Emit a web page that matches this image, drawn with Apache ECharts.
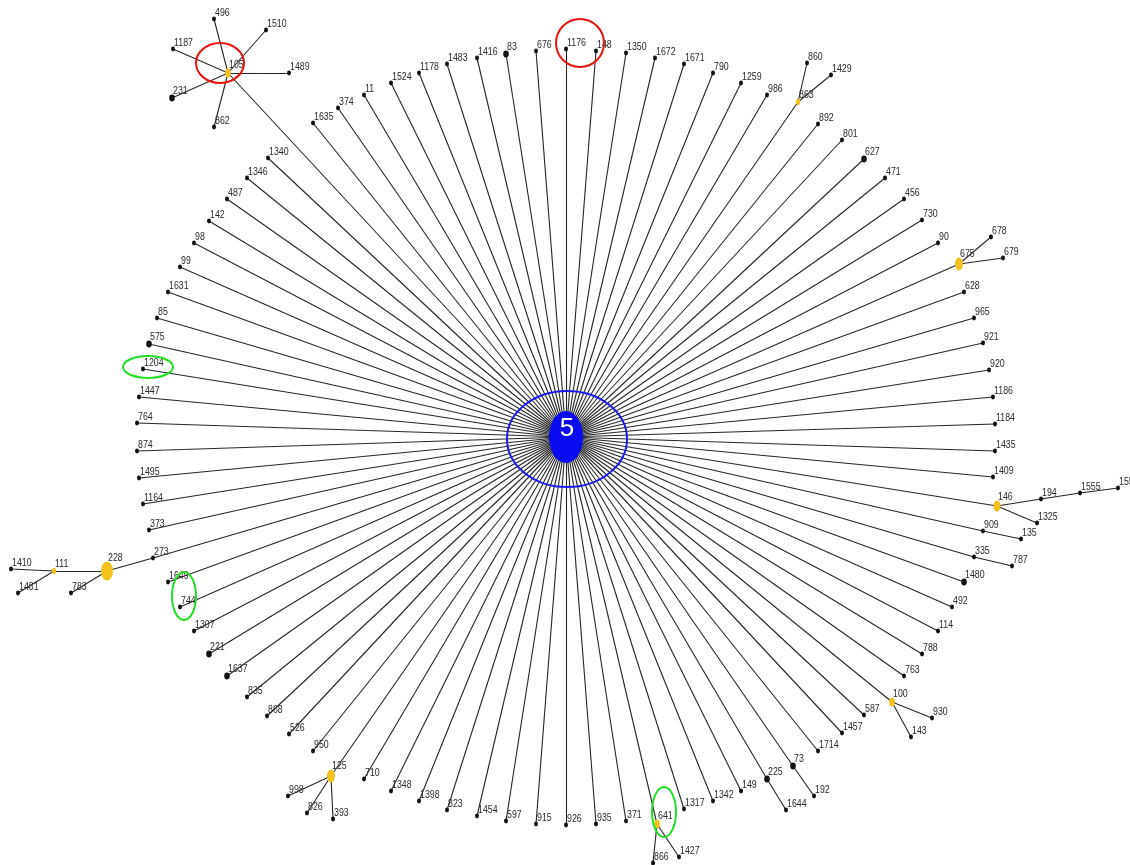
<!DOCTYPE html>
<html>
<head>
<meta charset="utf-8">
<title>Minimum spanning tree around node 5</title>
<script src="https://cdn.jsdelivr.net/npm/echarts@6/dist/echarts.min.js"></script>
<style>
  html, body { margin: 0; padding: 0; background: #ffffff; }
  #chart { width: 1130px; height: 865px; }
</style>
</head>
<body>
<div id="chart"></div>
<script>
// Central node of the tree
const HUB = '5';

// Nodes joined directly to the hub, clockwise from the upper-left cluster
const spokeNames = ['105','1635','374','11','1524','1178','1483','1416','83','676','1176','148',
  '1350','1672','1671','790','1259','986','863','892','801','627','471','456','730','90','675',
  '628','965','921','920','1186','1184','1435','1409','146','909','335','1480','492','114','788',
  '763','100','587','1457','1714','73','225','149','1342','1317','641','371','935','926','915',
  '597','1454','823','1398','1348','710','125','950','526','868','835','1637','221','1307','744',
  '1649','273','373','1164','1495','874','764','1447','1204','575','85','1631','99','98','142',
  '487','1346','1340'];

// Further links: [child, parent]
const branchLinks = [
  ['496','105'],['1510','105'],['1187','105'],['1489','105'],['231','105'],['862','105'],
  ['860','863'],['1429','863'],
  ['678','675'],['679','675'],
  ['194','146'],['1555','194'],['1556','1555'],['1325','146'],
  ['135','909'],['787','335'],
  ['930','100'],['143','100'],
  ['192','73'],['1644','225'],
  ['1427','641'],['866','641'],
  ['998','125'],['826','125'],['393','125'],
  ['228','273'],['111','228'],['783','228'],['1410','111'],['1481','111']
];

// Linking nodes (drawn in yellow)
const linkingNodes = ['105','863','675','146','100','641','125','228','111'];

// Isolate counts of nodes holding more than one isolate
const nodeWeight = {'228':9,'675':4,'125':4,'146':3,'105':2,'100':2,'641':2,
  '83':2,'627':2,'73':2,'575':2,'221':2,'1637':2,'225':2,'231':2,'1480':2};

// Fixed layout of the tree: [node, x, y] on the layout plane (y grows downward)
const layout = [
  ['5',566,437],
  ['105',228,73],['496',214,19],['1510',266,30],['1187',173,49],['1489',289,73],['231',172,98],['862',214,127],
  ['1635',313,123],['374',338,108],['11',364,95],['1524',391,83],['1178',419,73],['1483',447,64],
  ['1416',477,58],['83',506,54],['676',536,51],['1176',566,49],['148',596,51],['1350',626,53],
  ['1672',655,58],['1671',684,64],['790',713,73],['1259',741,83],['986',767,95],
  ['863',798,102],['860',807,63],['1429',831,75],
  ['892',818,124],['801',842,140],['627',864,159],['471',885,178],['456',904,199],['730',922,220],['90',938,243],
  ['675',959,264],['678',991,237],['679',1003,258],
  ['628',964,292],['965',974,318],['921',983,343],['920',989,370],['1186',993,397],['1184',995,424],
  ['1435',995,451],['1409',993,477],
  ['146',997,506],['194',1041,499],['1555',1080,493],['1556',1118,488],['1325',1037,523],
  ['909',983,531],['135',1021,539],
  ['335',974,557],['787',1012,566],
  ['1480',964,582],['492',952,607],['114',938,631],['788',922,654],['763',904,676],
  ['100',892,702],['930',932,718],['143',911,737],
  ['587',864,715],['1457',842,733],['1714',818,751],
  ['73',793,766],['192',814,796],
  ['225',767,779],['1644',786,810],
  ['149',741,791],['1342',713,801],['1317',684,809],
  ['641',657,824],['1427',679,857],['866',653,863],
  ['371',626,821],['935',596,824],['926',566,825],['915',536,824],['597',506,821],['1454',477,816],
  ['823',447,810],['1398',419,801],['1348',391,791],['710',364,779],
  ['125',331,776],['998',288,796],['826',307,813],['393',333,819],
  ['950',313,751],['526',289,734],['868',267,716],['835',247,697],['1637',227,676],['221',209,654],
  ['1307',194,631],['744',180,607],['1649',168,582],
  ['273',153,558],['228',107,571],['111',54,571],['1410',11,569],['1481',18,593],['783',71,593],
  ['373',149,530],['1164',143,504],['1495',139,478],['874',137,451],['764',137,423],['1447',139,397],
  ['1204',143,369],['575',149,344],['85',157,318],['1631',168,292],['99',180,267],['98',194,243],
  ['142',209,221],['487',227,199],['1346',247,178],['1340',268,158]
];

// Highlight rings: [centre x, centre y, half width, half height, colour]
const rings = [
  [567, 439, 60, 48, '#1a1aee'],
  [220, 63, 24, 20, '#e8140f'],
  [580, 43, 24, 24, '#e8140f'],
  [148, 367, 25, 11, '#22e022'],
  [184, 596, 12, 24, '#22e022'],
  [664, 812, 12, 25, '#22e022']
];

const YELLOW = '#f3c21c';
const LABEL_FONT = '11px "Liberation Sans", Arial, sans-serif';
const LABEL_SQUEEZE = 0.8;   // narrow-face look for the node numbers

function symbolSizeOf(name) {
  if (name === HUB) return [34, 52];
  const base = 4 * Math.sqrt(nodeWeight[name] || 1);
  return linkingNodes.includes(name) ? [base, base * 1.6] : [base, base * 1.2];
}

const nodes = layout.map(([name, x, y]) => {
  if (name === HUB) {
    return {
      name, value: [x, y], symbol: 'circle', symbolSize: symbolSizeOf(name),
      itemStyle: { color: '#0b0bef' },
      label: { show: true, position: 'inside', offset: [1, -8], color: '#ffffff',
        fontSize: 26, fontFamily: 'Arial, "Liberation Sans", sans-serif' },
      z: 5
    };
  }
  return {
    name, value: [x, y], symbol: 'circle',
    symbolSize: symbolSizeOf(name),
    itemStyle: { color: linkingNodes.includes(name) ? YELLOW : '#111111' }
  };
});

const links = spokeNames.map(n => ({ source: HUB, target: n }))
  .concat(branchLinks.map(([c, p]) => ({ source: p, target: c })));

const chart = echarts.init(document.getElementById('chart'), null, { renderer: 'canvas' });

chart.setOption({
  animation: false,
  backgroundColor: '#ffffff',
  grid: { left: 0, right: 0, top: 0, bottom: 0 },
  xAxis: { type: 'value', min: 0, max: 1130, show: false },
  yAxis: { type: 'value', min: 0, max: 865, inverse: true, show: false },
  series: [{
    type: 'graph',
    coordinateSystem: 'cartesian2d',
    silent: true,
    data: nodes,
    links: links,
    edgeSymbol: ['none', 'none'],
    lineStyle: { color: '#262626', width: 1.1, opacity: 1, curveness: 0 },
    label: { show: false }
  }]
});

// Node numbers: set just above-right of each dot, horizontally condensed
const nodeLabels = layout.filter(([name]) => name !== HUB).map(([name, x, y]) => {
  const p = chart.convertToPixel({ gridIndex: 0 }, [x, y]);
  const h = symbolSizeOf(name)[1];
  return {
    type: 'text',
    x: p[0] + 1,
    y: p[1] - h / 2 + 1.8,
    scaleX: LABEL_SQUEEZE,
    silent: true,
    z: 90,
    style: {
      text: name, font: LABEL_FONT, fill: '#2a2a2a',
      textAlign: 'left', textVerticalAlign: 'bottom', verticalAlign: 'bottom'
    }
  };
});

// Highlight rings placed through the same axes as the nodes
const ringGraphics = rings.map(([cx, cy, rx, ry, color]) => {
  const c = chart.convertToPixel({ gridIndex: 0 }, [cx, cy]);
  const e = chart.convertToPixel({ gridIndex: 0 }, [cx + rx, cy + ry]);
  return {
    type: 'ellipse',
    shape: { cx: c[0], cy: c[1], rx: Math.abs(e[0] - c[0]), ry: Math.abs(e[1] - c[1]) },
    style: { fill: 'none', stroke: color, lineWidth: 2 },
    z: 100, silent: true
  };
});
chart.setOption({ graphic: nodeLabels.concat(ringGraphics) });
</script>
</body>
</html>
